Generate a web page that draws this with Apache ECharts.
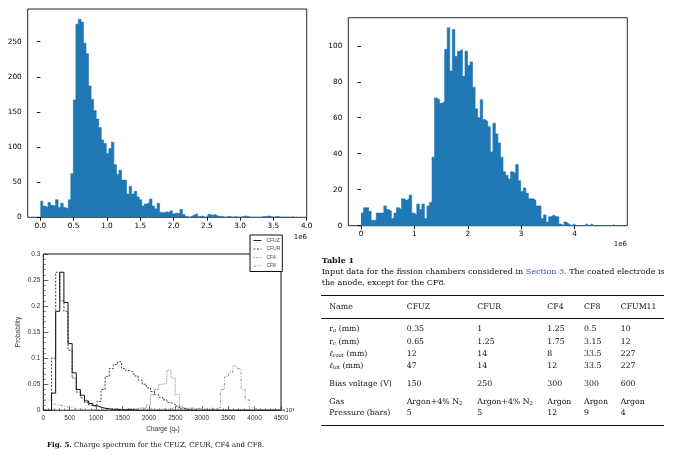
<!DOCTYPE html>
<html>
<head>
<meta charset="utf-8">
<script src="https://cdn.jsdelivr.net/npm/echarts@6/dist/echarts.min.js"></script>
<style>
body { margin: 0; background: #fff; }
#wrap { position: relative; width: 690px; height: 461px; overflow: hidden; }
#chart { position: absolute; left: 0; top: 0; width: 690px; height: 461px; }
#table { position: absolute; left: 0; top: 0; width: 690px; height: 461px; font-family: 'DejaVu Serif'; color: #111; pointer-events: none; }
.c { position: absolute; white-space: nowrap; transform: translateY(-50%); font-size: 7.8px; line-height: 1; }
.rule { position: absolute; left: 321px; width: 343px; background: #111; }
sub { font-size: 68%; vertical-align: -0.25em; line-height: 0; }
</style>
</head>
<body>
<div id="wrap">
  <div id="chart"></div>
  <div id="table"></div>
</div>
<script>
// top left histogram: 100 bins, x in units of 1e6
var tlBinWidth = 0.0381;
var tlCounts = [
  23, 16, 14, 21, 17, 16, 25, 14, 20, 14,
  12, 25, 62, 167, 275, 282, 278, 248, 233, 187,
  168, 152, 140, 128, 110, 105, 91, 98, 107, 75,
  61, 67, 53, 53, 33, 44, 33, 37, 29, 25,
  16, 19, 21, 26, 16, 12, 20, 7, 7, 8,
  6, 9, 5, 6, 5, 11, 4, 1, 0, 2,
  4, 5, 1, 2, 0, 1, 4, 3, 4, 2,
  1, 1, 0, 1, 1, 0, 1, 0, 0, 1,
  2, 1, 0, 0, 0, 0, 0, 1, 1, 2,
  1, 0, 1, 1, 0, 0, 0, 0, 0, 1
];
var tlXTicks = [0, 0.5, 1, 1.5, 2, 2.5, 3, 3.5, 4];
var tlYTicks = [0, 50, 100, 150, 200, 250];

// top right histogram
var trBinWidth = 0.0475;
var trCounts = [
  7, 10, 10, 8, 3, 3, 7, 7, 7, 11,
  9, 8, 4, 7, 10, 9, 15, 14, 15, 17,
  7, 6, 12, 9, 12, 4, 11, 13, 38, 71,
  70, 68, 69, 98, 110, 86, 109, 94, 97, 98,
  83, 97, 89, 91, 77, 65, 60, 70, 59, 58,
  55, 41, 57, 51, 46, 38, 30, 28, 26, 30,
  29, 34, 25, 19, 21, 18, 15, 15, 14, 11,
  11, 4, 6, 2, 5, 6, 5, 5, 1, 0,
  2, 1, 0, 1, 0, 0, 0, 0, 1, 0,
  1, 0, 0, 0, 0, 0, 0, 0, 0, 1
];
var trXTicks = [0, 1, 2, 3, 4];
var trYTicks = [0, 20, 40, 60, 80, 100];

// Fig. 5 charge spectra (probability per bin, charge in 1e3 q_e)
var chargeBinWidth = 78;
var seriesNames = ['CFUZ', 'CFUR', 'CF4', 'CF8'];
var cfuz = [
  0, 0, 0.033, 0.19, 0.265, 0.207, 0.128, 0.072, 0.04, 0.029,
  0.018, 0.013, 0.009, 0.006, 0.004, 0.003, 0.002, 0.002, 0.001, 0.001,
  0.001, 0.001, 0, 0, 0, 0, 0, 0, 0, 0,
  0, 0, 0, 0, 0, 0, 0, 0, 0, 0,
  0, 0, 0, 0, 0, 0, 0, 0, 0, 0,
  0, 0, 0, 0, 0, 0, 0, 0
];
var cfur = [
  0, 0, 0.1, 0.265, 0.21, 0.19, 0.115, 0.062, 0.035, 0.024,
  0.015, 0.01, 0.007, 0.017, 0.04, 0.065, 0.08, 0.088, 0.093, 0.08,
  0.076, 0.073, 0.066, 0.058, 0.05, 0.043, 0.036, 0.03, 0.025, 0.02,
  0.015, 0.012, 0.008, 0.004, 0.002, 0.001, 0, 0, 0, 0,
  0, 0, 0, 0, 0, 0, 0, 0, 0, 0,
  0, 0, 0, 0, 0, 0, 0, 0
];
var cf4 = [
  0, 0, 0, 0, 0, 0, 0, 0, 0, 0,
  0, 0, 0.002, 0, 0.003, 0, 0.002, 0.003, 0, 0.002,
  0.004, 0.002, 0.003, 0.005, 0.004, 0.01, 0.03, 0.04, 0.05, 0.052,
  0.077, 0.062, 0.03, 0.008, 0.004, 0.003, 0.002, 0.003, 0.002, 0.001,
  0.002, 0.001, 0, 0.002, 0.001, 0, 0.001, 0.002, 0.001, 0,
  0.001, 0.002, 0, 0.001, 0.002, 0.001, 0, 0.001
];
var cf8 = [
  0.02, 0.02, 0.012, 0.01, 0.008, 0.006, 0.005, 0.003, 0.002, 0.002,
  0.001, 0.001, 0.002, 0.001, 0.003, 0.002, 0.001, 0.002, 0.003, 0.001,
  0.002, 0.003, 0.002, 0.004, 0.002, 0.003, 0.002, 0.001, 0.003, 0.002,
  0.004, 0.003, 0.005, 0.004, 0.003, 0.005, 0.003, 0.004, 0.002, 0.003,
  0.004, 0.003, 0.005, 0.04, 0.065, 0.072, 0.085, 0.08, 0.04, 0.02,
  0.005, 0.002, 0.001, 0.002, 0.001, 0.002, 0.001, 0
];
var chargeXTicks = [0, 500, 1000, 1500, 2000, 2500, 3000, 3500, 4000, 4500];
var probYTicks = [0, 0.05, 0.1, 0.15, 0.2, 0.25, 0.3];

// Table 1
var tableTitle = 'Table 1';
var tableCaption = [
  'Input data for the fission chambers considered in <span style="color:#2b57a5">Section 3</span>. The coated electrode is',
  'the anode, except for the CF8.'
];
var tableHeader = ['Name', 'CFUZ', 'CFUR', 'CF4', 'CF8', 'CFUM11'];
var rowLabels = [
  'r<sub><i>a</i></sub> (mm)',
  'r<sub><i>c</i></sub> (mm)',
  '<i>&#8467;<sub>coat</sub></i> (mm)',
  '<i>&#8467;<sub>tot</sub></i> (mm)',
  'Bias voltage (V)',
  'Gas',
  'Pressure (bars)'
];
var rowValues = [
  ['0.35', '1', '1.25', '0.5', '10'],
  ['0.65', '1.25', '1.75', '3.15', '12'],
  ['12', '14', '8', '33.5', '227'],
  ['47', '14', '12', '33.5', '227'],
  ['150', '250', '300', '300', '600'],
  ['Argon+4% N<sub>2</sub>', 'Argon+4% N<sub>2</sub>', 'Argon', 'Argon', 'Argon'],
  ['5', '5', '12', '9', '4']
];
var figCaption = '<b>Fig. 5.</b> Charge spectrum for the CFUZ, CFUR, CF4 and CF8.';

// bin left edges + one closing point, drawn as a step line
function stepData(vals, w) {
  var d = vals.map(function (v, i) { return [i * w, v]; });
  d.push([vals.length * w, vals[vals.length - 1]]);
  return d;
}

function histSeries(idx, counts, w) {
  return {
    type: 'line', xAxisIndex: idx, yAxisIndex: idx, step: 'end',
    symbol: 'none', showSymbol: false, silent: true,
    lineStyle: { width: 0.6, color: '#1f77b4' },
    areaStyle: { color: '#1f77b4', opacity: 1, origin: 'start' },
    data: stepData(counts, w)
  };
}

var mplText = { fontFamily: 'DejaVu Sans', fontSize: 7.3, color: '#000' };
var rootText = { fontFamily: 'Liberation Sans', fontSize: 6.5, color: '#333' };

function mplX(idx, min, max, ticks, fmt) {
  return {
    type: 'value', gridIndex: idx, min: min, max: max,
    axisLine: { show: false },
    axisTick: { show: true, length: 3.5, customValues: ticks, lineStyle: { color: '#000', width: 0.9 } },
    axisLabel: Object.assign({ margin: 5, customValues: ticks, formatter: fmt }, mplText),
    splitLine: { show: false }
  };
}
function mplY(idx, max, ticks) {
  return {
    type: 'value', gridIndex: idx, min: 0, max: max,
    axisLine: { show: false },
    axisTick: { show: true, length: 3.5, customValues: ticks, lineStyle: { color: '#000', width: 0.9 } },
    axisLabel: Object.assign({ margin: 6, customValues: ticks }, mplText),
    splitLine: { show: false }
  };
}

var lineColors = ['#111', '#333', '#8a8a8a', '#a0a0a0'];
var lineWidths = [1, 0.9, 1, 1];
var lineTypes = ['solid', [2, 1.5], [1.2, 1.2], [3, 1.5, 1, 1.5]];
var chargeData = [cfuz, cfur, cf4, cf8];

var chargeSeries = chargeData.map(function (vals, k) {
  return {
    name: seriesNames[k], type: 'line', xAxisIndex: 2, yAxisIndex: 2,
    step: 'end', symbol: 'none', showSymbol: false, z: 10 - k,
    lineStyle: { color: lineColors[k], width: lineWidths[k], type: lineTypes[k] },
    itemStyle: { color: lineColors[k] },
    data: stepData(vals, chargeBinWidth)
  };
});

var chart = echarts.init(document.getElementById('chart'), null, { renderer: 'canvas' });
chart.setOption({
  animation: false,
  backgroundColor: '#fff',
  grid: [
    { left: 27.7, top: 9, width: 279, height: 208.3, show: true, borderColor: '#111', borderWidth: 0.9 },
    { left: 348.3, top: 17.7, width: 279, height: 208, show: true, borderColor: '#111', borderWidth: 0.9 },
    { left: 43.3, top: 254, width: 237.7, height: 156.3, show: true, borderColor: '#111', borderWidth: 1 }
  ],
  xAxis: [
    mplX(0, -0.19, 4.0, tlXTicks, function (v) { return v.toFixed(1); }),
    mplX(1, -0.2375, 4.9875, trXTicks, function (v) { return String(v); }),
    {
      type: 'value', gridIndex: 2, min: 0, max: 4500, interval: 500,
      axisLine: { show: false },
      axisTick: { show: true, inside: true, length: 4, lineStyle: { color: '#222', width: 0.7 } },
      minorTick: { show: true, splitNumber: 5, length: 2, lineStyle: { color: '#333', width: 0.6 } },
      axisLabel: Object.assign({ margin: 4, customValues: chargeXTicks, formatter: function (v) { return String(v); } }, rootText),
      splitLine: { show: false }
    }
  ],
  yAxis: [
    mplY(0, 296.6, tlYTicks),
    mplY(1, 115.6, trYTicks),
    {
      type: 'value', gridIndex: 2, min: 0, max: 0.3, interval: 0.05,
      axisLine: { show: false },
      axisTick: { show: true, inside: true, length: 5, lineStyle: { color: '#222', width: 0.7 } },
      minorTick: { show: true, splitNumber: 5, length: 2.5, lineStyle: { color: '#333', width: 0.6 } },
      axisLabel: Object.assign({ margin: 3, customValues: probYTicks, formatter: function (v) { return String(+v.toFixed(2)); } }, rootText),
      splitLine: { show: false }
    }
  ],
  legend: {
    data: seriesNames, orient: 'vertical', left: 250, top: 235,
    itemWidth: 8, itemHeight: 2, itemGap: 3.5, itemTextGap: 3, itemStyle: { opacity: 0 },
    lineStyle: { width: 0.9 },
    textStyle: { fontFamily: 'Liberation Sans', fontSize: 5, color: '#444' },
    borderColor: '#111', borderWidth: 1, padding: [3, 2, 3, 3], backgroundColor: '#fff'
  },
  graphic: [
    { type: 'text', x: 307, y: 237, style: { text: '1e6', font: '7px "DejaVu Sans"', fill: '#111', textAlign: 'right', textVerticalAlign: 'middle' } },
    { type: 'text', x: 627, y: 244, style: { text: '1e6', font: '7px "DejaVu Sans"', fill: '#111', textAlign: 'right', textVerticalAlign: 'middle' } },
    { type: 'text', x: 18, y: 332, rotation: Math.PI / 2, style: { text: 'Probability', font: '6.5px "Liberation Sans"', fill: '#333', textAlign: 'center', textVerticalAlign: 'middle' } },
    { type: 'text', x: 163, y: 429, style: { text: 'Charge (qₑ)', font: '6.5px "Liberation Sans"', fill: '#333', textAlign: 'center', textVerticalAlign: 'middle' } },
    { type: 'text', x: 282, y: 410, style: { text: '×10³', font: '6px "Liberation Sans"', fill: '#333', textAlign: 'left', textVerticalAlign: 'middle' } }
  ],
  series: [
    histSeries(0, tlCounts, tlBinWidth),
    histSeries(1, trCounts, trBinWidth)
  ].concat(chargeSeries)
});

// table and captions as html text
var tbl = document.getElementById('table');
function addText(html, x, y, extra) {
  var d = document.createElement('div');
  d.className = 'c';
  d.style.left = x + 'px';
  d.style.top = y + 'px';
  if (extra) d.setAttribute('style', d.getAttribute('style') + ';' + extra);
  d.innerHTML = html;
  tbl.appendChild(d);
}
function addRule(y, h) {
  var r = document.createElement('div');
  r.className = 'rule';
  r.style.top = y + 'px';
  r.style.height = h + 'px';
  tbl.appendChild(r);
}

var colX = [329.3, 406.7, 477.3, 547.3, 584, 620.7];
var rowY = [329.3, 341.7, 354, 366, 384, 401.7, 413.3];

addText(tableTitle, 321.7, 260, 'font-weight:bold;font-size:8px');
addText(tableCaption[0], 321.7, 272.3, 'font-size:8.05px');
addText(tableCaption[1], 321.7, 283.3, 'font-size:8.05px');
addRule(294.5, 1.3);
addRule(317.8, 0.9);
addRule(424.5, 1.3);
tableHeader.forEach(function (h, i) { addText(h, colX[i], 306.7); });
rowLabels.forEach(function (lab, r) {
  addText(lab, colX[0], rowY[r]);
  rowValues[r].forEach(function (v, c) { addText(v, colX[c + 1], rowY[r]); });
});
addText(figCaption, 47, 445, 'font-size:7px');
</script>
</body>
</html>
